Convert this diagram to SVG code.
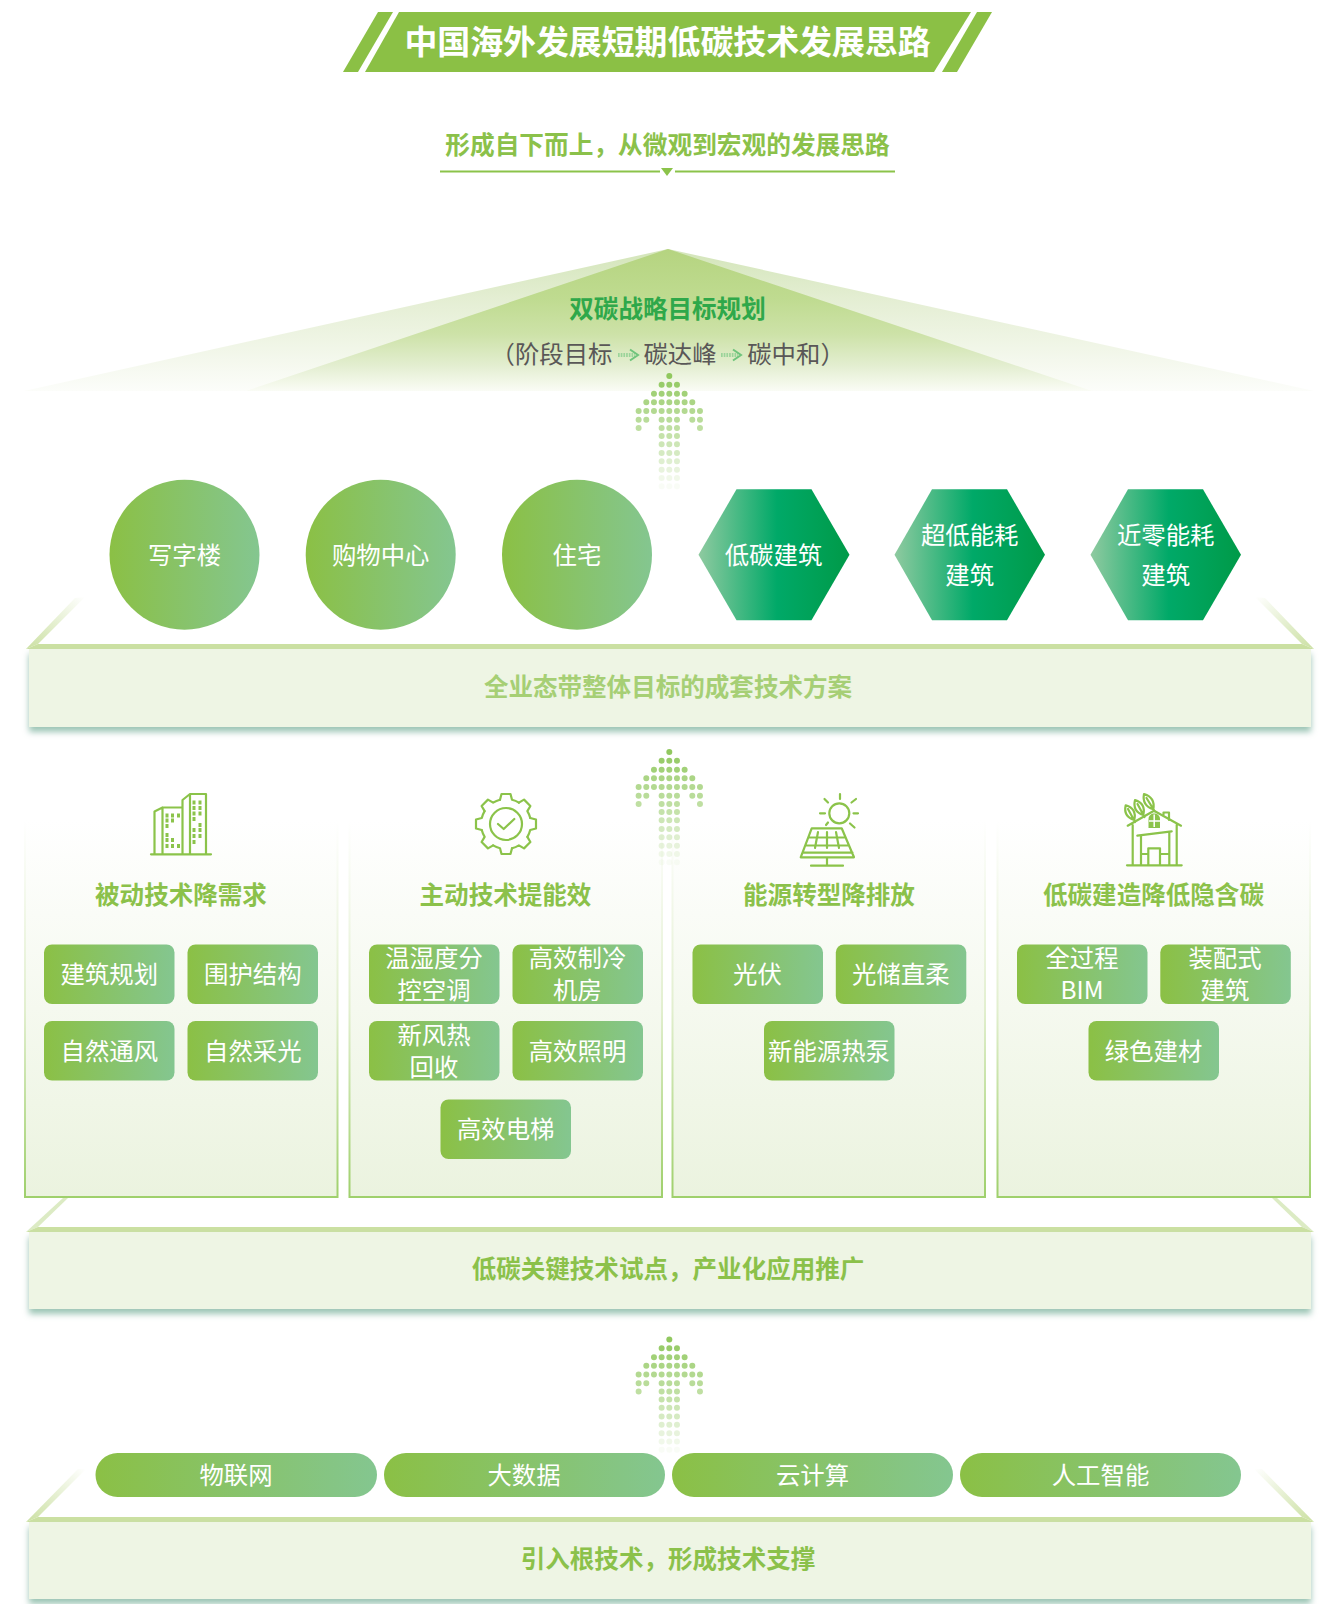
<svg xmlns="http://www.w3.org/2000/svg" width="1335" height="1604" viewBox="0 0 1335 1604">
<style>
text{font-family:"Noto Sans CJK SC","Liberation Sans",sans-serif;text-anchor:middle}
.t24{font-size:24.4px;fill:#fff}
.hd{font-size:24.55px;font-weight:700;fill:#8bc14a}
.chip{fill:url(#gc)}
.ic{fill:none;stroke:#8bc34a;stroke-width:2.2;stroke-linecap:round;stroke-linejoin:round}
.icf{fill:#8bc34a}
.dot{fill:none;stroke:#8bc556;stroke-width:6;stroke-linecap:round}
.bandtop{fill:#cbe0a2}
.plate{fill:#eef5e4;filter:url(#sh)}
.panel{fill:url(#gpanel);stroke:url(#gpanelS);stroke-width:2}
.mini{fill:none;stroke:#6fc47c;stroke-width:2}
.sm{font-size:24.4px;fill:#595757}
</style>
<defs>
<linearGradient id="gc" x1="0" x2="1" y1="0" y2="0"><stop offset="0" stop-color="#8bc045"/><stop offset="1" stop-color="#84c690"/></linearGradient>
<linearGradient id="gh" x1="0" x2="1" y1="0" y2="0"><stop offset="0" stop-color="#8fcaa0"/><stop offset=".52" stop-color="#00a968"/><stop offset="1" stop-color="#009a48"/></linearGradient>
<linearGradient id="gpanel" x1="0" x2="0" y1="0" y2="1"><stop offset="0" stop-color="#fff"/><stop offset="1" stop-color="#ebf3df"/></linearGradient>
<linearGradient id="gpanelS" x1="0" x2="0" y1="0" y2="1"><stop offset="0" stop-color="#fff"/><stop offset=".5" stop-color="#e2efcf"/><stop offset="1" stop-color="#9fd06c"/></linearGradient>
<linearGradient id="groofO" gradientUnits="userSpaceOnUse" x1="0" x2="0" y1="249" y2="391"><stop offset="0" stop-color="#d3e5b9"/><stop offset=".35" stop-color="#e4eed3"/><stop offset=".7" stop-color="#f1f6e8"/><stop offset="1" stop-color="#fcfdfa"/></linearGradient>
<linearGradient id="groofI" gradientUnits="userSpaceOnUse" x1="0" x2="0" y1="249" y2="391"><stop offset="0" stop-color="#b5d480"/><stop offset=".35" stop-color="#bfdb90"/><stop offset=".6" stop-color="#cde2a8"/><stop offset=".82" stop-color="#e3eed0"/><stop offset="1" stop-color="#fafcf5"/></linearGradient>
<linearGradient id="gdiag" x1="0" x2="1" y1="1" y2="0"><stop offset="0" stop-color="#cbe0a2"/><stop offset="1" stop-color="#fff"/></linearGradient>
<linearGradient id="gdiagR" x1="1" x2="0" y1="1" y2="0"><stop offset="0" stop-color="#cbe0a2"/><stop offset="1" stop-color="#fff"/></linearGradient>
<filter id="sh" x="-2%" y="-10%" width="104%" height="130%"><feDropShadow dx="0" dy="5" stdDeviation="3" flood-color="#9cc5b5"/></filter>
<g id="arrowDots">
<path class="dot" opacity=".95" d="M0 0h0"/>
<path class="dot" opacity=".88" d="M-7.67 8.67h0M0 8.67h0M7.67 8.67h0"/>
<path class="dot" opacity=".8" d="M-15.33 17.67h0M-7.67 17.67h0M0 17.67h0M7.67 17.67h0M15.33 17.67h0"/>
<path class="dot" opacity=".72" d="M-23 26.33h0M-15.33 26.33h0M-7.67 26.33h0M0 26.33h0M7.67 26.33h0M15.33 26.33h0M23 26.33h0"/>
<path class="dot" opacity=".65" d="M-30.67 35h0M-23 35h0M-15.33 35h0M-7.67 35h0M0 35h0M7.67 35h0M15.33 35h0M23 35h0M30.67 35h0"/>
<path class="dot" opacity=".6" d="M-30.67 43.67h0M-23 43.67h0M-7.67 43.67h0M0 43.67h0M7.67 43.67h0M23 43.67h0M30.67 43.67h0"/>
<path class="dot" opacity=".55" d="M-30.67 52h0M-7.67 52h0M0 52h0M7.67 52h0M30.67 52h0"/>
<path class="dot" opacity=".5" d="M-7.67 60h0M0 60h0M7.67 60h0"/>
<path class="dot" opacity=".43" d="M-7.67 68.33h0M0 68.33h0M7.67 68.33h0"/>
<path class="dot" opacity=".36" d="M-7.67 77h0M0 77h0M7.67 77h0"/>
<path class="dot" opacity=".28" d="M-7.67 85.33h0M0 85.33h0M7.67 85.33h0"/>
<path class="dot" opacity=".2" d="M-7.67 93.67h0M0 93.67h0M7.67 93.67h0"/>
<path class="dot" opacity=".12" d="M-7.67 102h0M0 102h0M7.67 102h0"/>
<path class="dot" opacity=".05" d="M-7.67 110.33h0M0 110.33h0M7.67 110.33h0"/>
</g>
<g id="miniArrow">
<path d="M0 0h17" fill="none" stroke="#9bd49a" stroke-width="4" stroke-dasharray="1.7 1"/>
<path class="mini" d="M12-5.500l8 5.500-8 5.500"/>
</g>
<path id="tooth" class="ic" d="M-6-24.2L-4.5-30H4.5L6-24.2A25 25 0 0 1 12.9-21.4"/>
</defs>

<g id="title">
<polygon points="343,72 378,12 393,12 358,72" fill="#8bc045"/>
<polygon points="365,72 399,12 971,12 934,72" fill="#8bc045"/>
<polygon points="942,72 977,12 992,12 957,72" fill="#8bc045"/>
<text x="667.500" y="54" font-size="32.9" font-weight="700" fill="#fff">中国海外发展短期低碳技术发展思路</text>
</g>
<g id="subtitle">
<text x="667.500" y="153.500" font-size="24.7" font-weight="700" fill="#8bc14a">形成自下而上，从微观到宏观的发展思路</text>
<path d="M440 171.500H660M675 171.500H895" stroke="#8bc34a" stroke-width="2" fill="none"/>
<polygon points="661,168 673,168 667,176" fill="#8bc34a"/>
</g>

<g id="goal">
<polygon points="668,249 24,391 1314,391" fill="url(#groofO)"/>
<polygon points="668,249 246,391 1092,391" fill="url(#groofI)"/>
<text x="667.500" y="317.500" class="hd" style="fill:#2fa84a">双碳战略目标规划</text>
<text class="sm" x="551.500" y="363">（阶段目标</text>
<text class="sm" x="680" y="363">碳达峰</text>
<text class="sm" x="796" y="363">碳中和）</text>
<use href="#miniArrow" x="618" y="355"/>
<use href="#miniArrow" x="721" y="355"/>
</g>

<g id="n-office"><circle cx="184.500" cy="554.800" r="75" fill="url(#gc)"/><text class="t24" x="184.500" y="564">写字楼</text></g>
<g id="n-mall"><circle cx="380.700" cy="554.800" r="75" fill="url(#gc)"/><text class="t24" x="380.700" y="564">购物中心</text></g>
<g id="n-home"><circle cx="577" cy="554.800" r="75" fill="url(#gc)"/><text class="t24" x="577" y="564">住宅</text></g>
<g id="n-low"><polygon points="698.500,554.800 736.500,489.300 811.500,489.300 849.500,554.800 811.500,620.300 736.500,620.300" fill="url(#gh)"/><text class="t24" x="773.500" y="564">低碳建筑</text></g>
<g id="n-ultra"><polygon points="894.500,554.800 932,489.300 1007,489.300 1045,554.800 1007,620.300 932,620.300" fill="url(#gh)"/><text class="t24" x="969.700" y="544">超低能耗</text><text class="t24" x="969.700" y="584">建筑</text></g>
<g id="n-near"><polygon points="1090.500,554.800 1128,489.300 1203,489.300 1241,554.800 1203,620.300 1128,620.300" fill="url(#gh)"/><text class="t24" x="1165.700" y="544">近零能耗</text><text class="t24" x="1165.700" y="584">建筑</text></g>

<g id="platform1">
<polygon points="26,649 38,644 85,597 75,598" fill="url(#gdiag)"/>
<polygon points="1314,649 1302,644 1255,597 1265,598" fill="url(#gdiagR)"/>
<polygon class="bandtop" points="26,649 38,644 1302,644 1314,649"/>
<rect class="plate" x="29" y="649" width="1282" height="78"/>
<text class="hd" x="668" y="695.500" style="fill:#a6cf75">全业态带整体目标的成套技术方案</text>
</g>

<g id="platform2">
<polygon points="26,1232 38,1227 68,1198 63,1198" fill="#dcebc4"/>
<polygon points="1314,1232 1302,1227 1272,1198 1277,1198" fill="#dcebc4"/>
<polygon class="bandtop" points="26,1232 38,1227 1302,1227 1314,1232"/>
<rect class="plate" x="29" y="1232" width="1282" height="77"/>
<text class="hd" x="668" y="1278">低碳关键技术试点，产业化应用推广</text>
</g>

<g id="panel-passive">
<rect class="panel" x="25" y="820" width="312.500" height="377"/>
<g id="icon-building">
<path class="ic" d="M154.500 854V811.500L162.500 807.500V854M162.500 807.500H182.500V854M182.500 854V800L190 794H206V854M190 794V854"/>
<path class="ic" stroke-width="2.500" d="M151 854.300H211"/>
<path class="icf" d="M165.500 813.500h3v4h-3zM171 813.500h3v4h-3zM177 813.500h3v4h-3zM165.500 818.500h3v4h-3zM171 818.500h3v4h-3zM165.500 824h3v4h-3zM165.500 833h3v4h-3zM165.500 838h3v4h-3zM171 838h3v4h-3zM165.500 844h3v4h-3zM171 844h3v4h-3zM177 844h3v4h-3zM192.500 800.500h3v4h-3zM198.500 800.500h3v4h-3zM192.500 806h3v4h-3zM198.500 806h3v4h-3zM192.500 811.500h3v4h-3zM198.500 811.500h3v4h-3zM192.500 817h3v4h-3zM198.500 823h3v4h-3zM192.500 828h3v4h-3zM198.500 828h3v4h-3zM192.500 834h3v4h-3zM198.500 834h3v4h-3zM192.500 840h3v4h-3z"/>
</g>
<text class="hd" x="181" y="903.500">被动技术降需求</text>
</g>
<g id="panel-active">
<rect class="panel" x="349.500" y="820" width="312.500" height="377"/>
<g id="icon-gear" transform="translate(506 824)">
<use href="#tooth"/><use href="#tooth" transform="rotate(45)"/><use href="#tooth" transform="rotate(90)"/><use href="#tooth" transform="rotate(135)"/><use href="#tooth" transform="rotate(180)"/><use href="#tooth" transform="rotate(225)"/><use href="#tooth" transform="rotate(270)"/><use href="#tooth" transform="rotate(315)"/>
<circle class="ic" r="16"/>
<path class="ic" d="M-8 0L-2.300 5L8.300-5"/>
</g>
<text class="hd" x="505.500" y="903.500">主动技术提能效</text>
</g>
<g id="panel-energy">
<rect class="panel" x="672.500" y="820" width="312.500" height="377"/>
<g id="icon-solar">
<circle class="ic" cx="839.300" cy="813.300" r="10"/>
<path class="ic" d="M840 794V799M853.500 813.300H858M820 813.300H825M824.500 799L828 802.500M856 799L851.500 802.500M850 823.500L854.500 827.500M826 825L828 822.500"/>
<path class="ic" d="M811.700 828.300H841.700L854 857.300H800.700ZM802.500 852.700H852.500M809 837.500H845M806 845.500H848M818 832L815 848M827 832V848M836 832L839 848M827 857.500V865.500M811 865.700H843"/>
</g>
<text class="hd" x="829" y="903.500">能源转型降排放</text>
</g>
<g id="panel-construct">
<rect class="panel" x="997.500" y="820" width="312.500" height="377"/>
<g id="icon-house">
<path class="ic" stroke-width="2.500" d="M1127.700 825.700L1154 810.700L1181 825.700M1132.700 825V865M1176.700 825V865"/>
<path class="ic" stroke-width="3" d="M1127 865.300H1181.700"/>
<path class="ic" stroke-width="2.500" d="M1137.300 835.700L1171.700 831.300M1141 835.700V865M1169.300 832V865M1148.300 865V848.300H1160V865M1141 854H1148.300M1160 854H1169.300M1163.500 814.500V812.500H1169V820"/>
<path class="icf" d="M1148.500 828V819C1148.500 811.500 1160 811.500 1160 819V828Z"/>
<path d="M1154.200 814.500V827M1149 821H1160" stroke="#fff" stroke-width="1.500" fill="none"/>
<path class="ic" d="M1125.700 805.300Q1136.900 808.600 1134.300 820Q1123.100 816.600 1125.700 805.300ZM1135 800Q1146 803.500 1143.300 815Q1132.300 811.500 1135 800ZM1144 794Q1155.500 797.600 1153.300 809.300Q1141.800 805.600 1144 794ZM1128 809L1135 822M1137.500 804L1144.500 817M1146.500 798L1154.500 811"/>
</g>
<text class="hd" x="1153.500" y="903.500">低碳建造降低隐含碳</text>
</g>

<g id="chips-passive">
<g id="c-a1"><rect class="chip" x="44" y="944.500" width="130.500" height="59.500" rx="8"/><text class="t24" x="109.300" y="983">建筑规划</text></g>
<g id="c-a2"><rect class="chip" x="187.500" y="944.500" width="130.500" height="59.500" rx="8"/><text class="t24" x="252.800" y="983">围护结构</text></g>
<g id="c-a3"><rect class="chip" x="44" y="1021" width="130.500" height="59.500" rx="8"/><text class="t24" x="109.300" y="1060">自然通风</text></g>
<g id="c-a4"><rect class="chip" x="187.500" y="1021" width="130.500" height="59.500" rx="8"/><text class="t24" x="252.800" y="1060">自然采光</text></g>
</g>
<g id="chips-active">
<g id="c-b1"><rect class="chip" x="369" y="944.500" width="130.500" height="59.500" rx="8"/><text class="t24" x="434" y="967">温湿度分</text><text class="t24" x="434" y="998.500">控空调</text></g>
<g id="c-b2"><rect class="chip" x="512.500" y="944.500" width="130.500" height="59.500" rx="8"/><text class="t24" x="577.500" y="967">高效制冷</text><text class="t24" x="577.500" y="998.500">机房</text></g>
<g id="c-b3"><rect class="chip" x="369" y="1021" width="130.500" height="59.500" rx="8"/><text class="t24" x="434" y="1044">新风热</text><text class="t24" x="434" y="1075.500">回收</text></g>
<g id="c-b4"><rect class="chip" x="512.500" y="1021" width="130.500" height="59.500" rx="8"/><text class="t24" x="577.500" y="1060">高效照明</text></g>
<g id="c-b5"><rect class="chip" x="440.500" y="1099.500" width="130.500" height="59.500" rx="8"/><text class="t24" x="505.700" y="1138">高效电梯</text></g>
</g>
<g id="chips-energy">
<g id="c-c1"><rect class="chip" x="692.500" y="944.500" width="130.500" height="59.500" rx="8"/><text class="t24" x="757.500" y="983">光伏</text></g>
<g id="c-c2"><rect class="chip" x="835.800" y="944.500" width="130.500" height="59.500" rx="8"/><text class="t24" x="900.800" y="983">光储直柔</text></g>
<g id="c-c3"><rect class="chip" x="764" y="1021" width="130.500" height="59.500" rx="8"/><text class="t24" x="829" y="1060">新能源热泵</text></g>
</g>
<g id="chips-construct">
<g id="c-d1"><rect class="chip" x="1017" y="944.500" width="130.500" height="59.500" rx="8"/><text class="t24" x="1082" y="967">全过程</text><text class="t24" x="1082" y="998.500">BIM</text></g>
<g id="c-d2"><rect class="chip" x="1160.300" y="944.500" width="130.500" height="59.500" rx="8"/><text class="t24" x="1225" y="967">装配式</text><text class="t24" x="1225" y="998.500">建筑</text></g>
<g id="c-d3"><rect class="chip" x="1088.500" y="1021" width="130.500" height="59.500" rx="8"/><text class="t24" x="1153.500" y="1060">绿色建材</text></g>
</g>

<g id="platform3">
<polygon points="26,1522 38,1517 86,1469 78,1469" fill="url(#gdiag)"/>
<polygon points="1314,1522 1302,1517 1254,1469 1262,1469" fill="url(#gdiagR)"/>
<polygon class="bandtop" points="26,1522 38,1517 1302,1517 1314,1522"/>
<rect class="plate" x="29" y="1522" width="1282" height="77"/>
<text class="hd" x="668" y="1568">引入根技术，形成技术支撑</text>
</g>
<g id="p-iot"><rect class="chip" x="95.500" y="1453" width="281.500" height="44" rx="22"/><text class="t24" x="236" y="1484">物联网</text></g>
<g id="p-data"><rect class="chip" x="384" y="1453" width="281" height="44" rx="22"/><text class="t24" x="524" y="1484">大数据</text></g>
<g id="p-cloud"><rect class="chip" x="672" y="1453" width="281" height="44" rx="22"/><text class="t24" x="812.500" y="1484">云计算</text></g>
<g id="p-ai"><rect class="chip" x="960" y="1453" width="281" height="44" rx="22"/><text class="t24" x="1100.500" y="1484">人工智能</text></g>

<g id="connectors">
<use href="#arrowDots" x="669.300" y="376"/>
<use href="#arrowDots" x="669.300" y="752"/>
<use href="#arrowDots" x="669.300" y="1339.500"/>
</g>
</svg>
